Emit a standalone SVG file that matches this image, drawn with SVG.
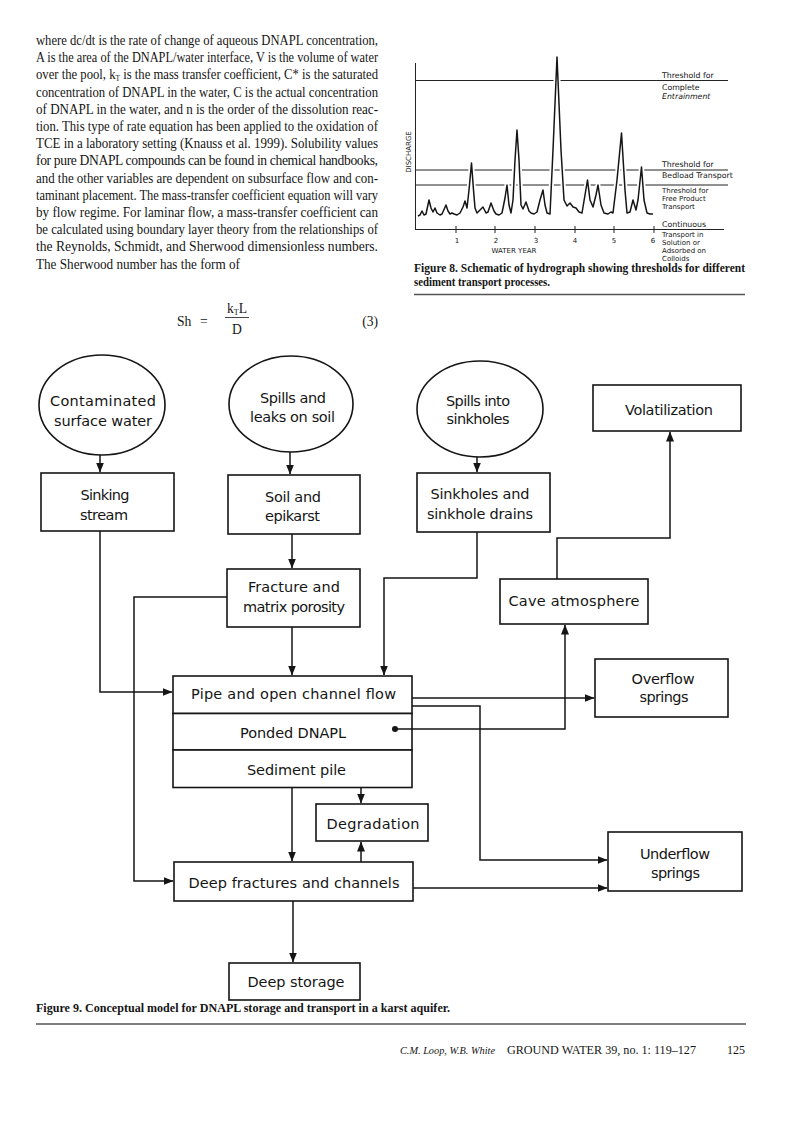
<svg xmlns="http://www.w3.org/2000/svg" width="799" height="1125" viewBox="0 0 799 1125">
<defs>
<style>
.body{font-family:"Liberation Serif",serif;font-size:13.6px;fill:#151515}
.cap{font-family:"Liberation Serif",serif;font-size:12.5px;font-weight:bold;fill:#151515}
.fc{font-family:"DejaVu Sans",sans-serif;font-size:14.5px;text-anchor:middle;fill:#151515}
.box{fill:#fff;stroke:#151515;stroke-width:1.6}
.conn path{fill:none;stroke:#151515;stroke-width:1.5}
.h8{font-family:"DejaVu Sans",sans-serif;font-size:7px;fill:#151515}
.thr{stroke:#222;stroke-width:1;fill:none}
</style>
<marker id="ah" markerWidth="10" markerHeight="8" refX="9.5" refY="4" orient="auto" markerUnits="userSpaceOnUse"><path d="M0,0 L10,4 L0,8 z" fill="#151515"/></marker>
</defs>
<rect width="799" height="1125" fill="#fff"/>

<!-- body text -->
<g id="bodytext" class="body">
<text x="36" y="45" textLength="342" lengthAdjust="spacingAndGlyphs">where dc/dt is the rate of change of aqueous DNAPL concentration,</text>
<text x="36" y="62.2" textLength="342" lengthAdjust="spacingAndGlyphs">A is the area of the DNAPL/water interface, V is the volume of water</text>
<text x="36" y="79.4" textLength="342" lengthAdjust="spacingAndGlyphs">over the pool, k<tspan font-size="8" dy="2">T</tspan><tspan dy="-2"> is the mass transfer coefficient, C* is the saturated</tspan></text>
<text x="36" y="96.6" textLength="342" lengthAdjust="spacingAndGlyphs">concentration of DNAPL in the water, C is the actual concentration</text>
<text x="36" y="113.8" textLength="342" lengthAdjust="spacingAndGlyphs">of DNAPL in the water, and n is the order of the dissolution reac-</text>
<text x="36" y="131" textLength="342" lengthAdjust="spacingAndGlyphs">tion. This type of rate equation has been applied to the oxidation of</text>
<text x="36" y="148.2" textLength="342" lengthAdjust="spacingAndGlyphs">TCE in a laboratory setting (Knauss et al. 1999). Solubility values</text>
<text x="36" y="165.4" textLength="342" lengthAdjust="spacing">for pure DNAPL compounds can be found in chemical handbooks,</text>
<text x="36" y="182.6" textLength="342" lengthAdjust="spacingAndGlyphs">and the other variables are dependent on subsurface flow and con-</text>
<text x="36" y="199.8" textLength="342" lengthAdjust="spacingAndGlyphs">taminant placement. The mass-transfer coefficient equation will vary</text>
<text x="36" y="217" textLength="342" lengthAdjust="spacingAndGlyphs">by flow regime. For laminar flow, a mass-transfer coefficient can</text>
<text x="36" y="234.2" textLength="342" lengthAdjust="spacingAndGlyphs">be calculated using boundary layer theory from the relationships of</text>
<text x="36" y="251.4" textLength="342" lengthAdjust="spacing">the Reynolds, Schmidt, and Sherwood dimensionless numbers.</text>
<text x="36" y="268.6" textLength="204" lengthAdjust="spacingAndGlyphs">The Sherwood number has the form of</text>
</g>

<!-- equation -->
<g id="equation" class="body">
<text x="177" y="325.5">Sh</text>
<text x="200" y="325.5">=</text>
<text x="237" y="313" text-anchor="middle">k<tspan font-size="8" dy="2">T</tspan><tspan dy="-2">L</tspan></text>
<line x1="225" y1="317.5" x2="249" y2="317.5" stroke="#151515" stroke-width="0.8"/>
<text x="237" y="334" text-anchor="middle">D</text>
<text x="378" y="325.5" text-anchor="end">(3)</text>
</g>

<!-- Figure 8 -->
<g id="figure8">
<line class="thr" x1="415.5" y1="63" x2="415.5" y2="230" stroke-width="1.2"/>
<line class="thr" x1="415" y1="80.5" x2="728" y2="80.5"/>
<line class="thr" x1="415" y1="170" x2="728" y2="170"/>
<line class="thr" x1="415" y1="185" x2="728" y2="185"/>
<line class="thr" x1="415" y1="229.5" x2="724" y2="229.5" stroke-width="1.2"/>
<g class="thr" stroke-width="1.2">
<line x1="456" y1="226" x2="456" y2="233"/>
<line x1="495" y1="226" x2="495" y2="233"/>
<line x1="535" y1="226" x2="535" y2="233"/>
<line x1="575" y1="226" x2="575" y2="233"/>
<line x1="614" y1="226" x2="614" y2="233"/>
<line x1="654" y1="226" x2="654" y2="233"/>
</g>
<path d="M418,216 L420,215 L422,211 L424,215 L426,214 L429,200 L431,208 L433,212 L435,208 L437,213 L440,215 L442,214 L446,205 L448,211 L450,214 L452,213 L454,214 L457,215 L460,213 L463,207 L465,201 L467,208 L469,190 L471.5,163 L473.5,190 L475,208 L477,213 L480,210 L483,207 L486,213 L488,212 L491,203 L494,211 L496,214 L499,215 L502,213 L505,198 L507,185 L509,205 L511,213 L513,200 L515,160 L517,130 L519,160 L521,205 L523,209 L526,202 L529,211 L531,213 L534,214 L537,212 L540,200 L543,190 L545,205 L547,213 L550,214 L553,150 L557,57 L561,150 L564,200 L567,206 L570,203 L573,207 L576,208 L579,212 L582,213 L585,195 L587.5,180 L590,200 L593,207 L596,195 L598,185 L601,205 L604,213 L608,214 L611,212 L613,213 L617,180 L621.5,133 L625,190 L627,213 L630,212 L633,200 L636,210 L638,200 L641.5,167 L644,200 L647,213 L650,214 L653,214" fill="none" stroke="#fff" stroke-width="5" stroke-linejoin="round"/>
<path d="M418,216 L420,215 L422,211 L424,215 L426,214 L429,200 L431,208 L433,212 L435,208 L437,213 L440,215 L442,214 L446,205 L448,211 L450,214 L452,213 L454,214 L457,215 L460,213 L463,207 L465,201 L467,208 L469,190 L471.5,163 L473.5,190 L475,208 L477,213 L480,210 L483,207 L486,213 L488,212 L491,203 L494,211 L496,214 L499,215 L502,213 L505,198 L507,185 L509,205 L511,213 L513,200 L515,160 L517,130 L519,160 L521,205 L523,209 L526,202 L529,211 L531,213 L534,214 L537,212 L540,200 L543,190 L545,205 L547,213 L550,214 L553,150 L557,57 L561,150 L564,200 L567,206 L570,203 L573,207 L576,208 L579,212 L582,213 L585,195 L587.5,180 L590,200 L593,207 L596,195 L598,185 L601,205 L604,213 L608,214 L611,212 L613,213 L617,180 L621.5,133 L625,190 L627,213 L630,212 L633,200 L636,210 L638,200 L641.5,167 L644,200 L647,213 L650,214 L653,214" fill="none" stroke="#151515" stroke-width="1.5" stroke-linejoin="round"/>
<text class="h8" transform="translate(410.5,152) rotate(-90)" text-anchor="middle" font-size="8">DISCHARGE</text>
<g class="h8" text-anchor="middle" font-size="8">
<text x="457" y="243">1</text><text x="496" y="243">2</text><text x="536" y="243">3</text>
<text x="575" y="243">4</text><text x="614" y="243">5</text><text x="653" y="243">6</text>
<text x="514" y="252.5">WATER YEAR</text>
</g>
<g class="h8">
<text x="662" y="78" font-size="7.8">Threshold for</text>
<text x="662" y="89.5" font-size="7.8">Complete</text>
<text x="662" y="98.5" font-size="7.8" font-style="italic">Entrainment</text>
<text x="662" y="166.5" font-size="7.8">Threshold for</text>
<text x="662" y="177.5" font-size="7.8">Bedload Transport</text>
<text x="662" y="192.5">Threshold for</text>
<text x="662" y="200.7">Free Product</text>
<text x="662" y="208.9">Transport</text>
<text x="662" y="227" font-size="7.8">Continuous</text>
<text x="662" y="236.5">Transport in</text>
<text x="662" y="244.7">Solution or</text>
<text x="662" y="252.9">Adsorbed on</text>
<text x="662" y="261.1">Colloids</text>
</g>
<text class="cap" x="414" y="272" textLength="331" lengthAdjust="spacingAndGlyphs">Figure 8.  Schematic of hydrograph showing thresholds for different</text>
<text class="cap" x="414" y="286" textLength="136" lengthAdjust="spacingAndGlyphs">sediment transport processes.</text>
<line x1="414" y1="294.5" x2="745" y2="294.5" stroke="#555" stroke-width="1.3"/>
</g>

<!-- Figure 9 nodes -->
<g id="n_contam"><ellipse class="box" cx="102" cy="405" rx="63" ry="50"/>
<text class="fc" x="103" y="406" textLength="106">Contaminated</text><text class="fc" x="103" y="425.5" textLength="98">surface water</text></g>
<g id="n_spills"><ellipse class="box" cx="291" cy="404" rx="62" ry="48"/>
<text class="fc" x="293" y="403" textLength="66">Spills and</text><text class="fc" x="292.5" y="422" textLength="85">leaks on soil</text></g>
<g id="n_sinkspill"><ellipse class="box" cx="480" cy="409" rx="63" ry="48"/>
<text class="fc" x="478" y="405.5" textLength="64">Spills into</text><text class="fc" x="478" y="424" textLength="63">sinkholes</text></g>
<g id="n_volat"><rect class="box" x="593" y="385" width="148" height="46"/>
<text class="fc" x="669" y="415" textLength="88">Volatilization</text></g>
<g id="n_sinking"><rect class="box" x="41" y="473" width="133" height="58"/>
<text class="fc" x="105" y="500" textLength="49">Sinking</text><text class="fc" x="104" y="519.5" textLength="48">stream</text></g>
<g id="n_soil"><rect class="box" x="228" y="475" width="132" height="59"/>
<text class="fc" x="293" y="501.5" textLength="56">Soil and</text><text class="fc" x="292.5" y="521" textLength="55">epikarst</text></g>
<g id="n_sinkholes"><rect class="box" x="417" y="473" width="133" height="59"/>
<text class="fc" x="480" y="498.5" textLength="99">Sinkholes and</text><text class="fc" x="480" y="518.5" textLength="106">sinkhole drains</text></g>
<g id="n_fracture"><rect class="box" x="227" y="569" width="133" height="58"/>
<text class="fc" x="294" y="592" textLength="92">Fracture and</text><text class="fc" x="294" y="612" textLength="102">matrix porosity</text></g>
<g id="n_cave"><rect class="box" x="500" y="579" width="148" height="45"/>
<text class="fc" x="574" y="606" textLength="131">Cave atmosphere</text></g>
<g id="n_overflow"><rect class="box" x="595" y="659" width="133" height="58"/>
<text class="fc" x="663" y="683.5" textLength="63">Overflow</text><text class="fc" x="664" y="702" textLength="49">springs</text></g>
<g id="n_pipe"><rect class="box" x="173" y="676" width="239" height="37.5"/>
<text class="fc" x="293.5" y="698.5" textLength="205">Pipe and open channel flow</text></g>
<g id="n_ponded"><rect class="box" x="173" y="713.5" width="239" height="36.5"/>
<text class="fc" x="293" y="738" textLength="106">Ponded DNAPL</text></g>
<g id="n_sediment"><rect class="box" x="173" y="750" width="239" height="37.5"/>
<text class="fc" x="296.5" y="775" textLength="99">Sediment pile</text></g>
<g id="n_degrad"><rect class="box" x="316" y="804" width="112" height="37"/>
<text class="fc" x="373" y="828.5" textLength="93">Degradation</text></g>
<g id="n_deepfrac"><rect class="box" x="174" y="862" width="239" height="39"/>
<text class="fc" x="294" y="887.5" textLength="211">Deep fractures and channels</text></g>
<g id="n_underflow"><rect class="box" x="608" y="832" width="134" height="59"/>
<text class="fc" x="675" y="858.5" textLength="70">Underflow</text><text class="fc" x="675.5" y="878" textLength="49">springs</text></g>
<g id="n_deepstore"><rect class="box" x="229" y="963" width="131" height="37"/>
<text class="fc" x="296" y="987" textLength="97">Deep storage</text></g>

<!-- connectors -->
<g id="connectors" class="conn">
<path d="M100,455 V472" marker-end="url(#ah)"/>
<path d="M290,452 V474" marker-end="url(#ah)"/>
<path d="M477,457 V472" marker-end="url(#ah)"/>
<path d="M100,531 V692 H172" marker-end="url(#ah)"/>
<path d="M292,534 V568" marker-end="url(#ah)"/>
<path d="M227,597 H134 V881 H173" marker-end="url(#ah)"/>
<path d="M292,627 V675" marker-end="url(#ah)"/>
<path d="M477,532 V578 H384 V675" marker-end="url(#ah)"/>
<path d="M557,579 V538 H670 V432" marker-end="url(#ah)"/>
<path d="M412,698 H594" marker-end="url(#ah)"/>
<path d="M412,706 H480 V860 H607" marker-end="url(#ah)"/>
<path d="M395,729 H565 V625" marker-end="url(#ah)"/>
<path d="M292,788 V861" marker-end="url(#ah)"/>
<path d="M361,788 V803" marker-end="url(#ah)"/>
<path d="M361,862 V842" marker-end="url(#ah)"/>
<path d="M413,888 H607" marker-end="url(#ah)"/>
<path d="M293,901 V962" marker-end="url(#ah)"/>
<circle cx="395" cy="729" r="3" fill="#151515"/>
</g>

<!-- Figure 9 caption and footer -->
<text class="cap" x="36" y="1012" textLength="414" lengthAdjust="spacingAndGlyphs">Figure 9.  Conceptual model for DNAPL storage and transport in a karst aquifer.</text>
<line x1="36" y1="1024" x2="746" y2="1024" stroke="#555" stroke-width="1.3"/>
<g id="footer" class="body">
<text x="400" y="1054" font-size="10.8" font-style="italic" textLength="95" lengthAdjust="spacingAndGlyphs">C.M. Loop, W.B. White</text>
<text x="507" y="1054" font-size="12" textLength="189" lengthAdjust="spacingAndGlyphs">GROUND WATER 39, no. 1: 119–127</text>
<text x="727" y="1054" font-size="12" textLength="18" lengthAdjust="spacingAndGlyphs">125</text>
</g>
</svg>
